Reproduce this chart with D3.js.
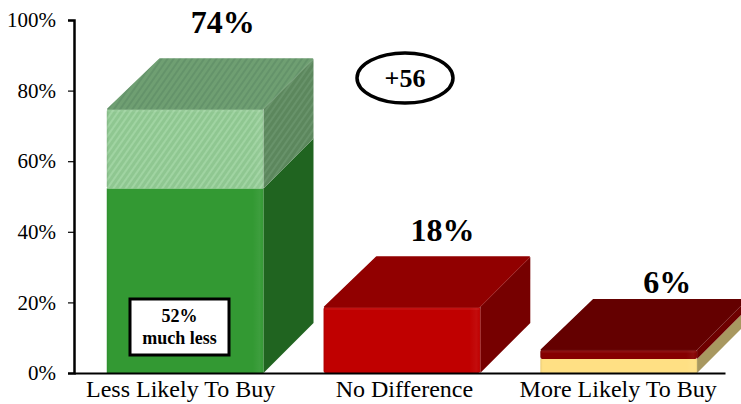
<!DOCTYPE html>
<html>
<head>
<meta charset="utf-8">
<script src="https://cdn.jsdelivr.net/npm/d3@7"></script>
<style>
  html, body { margin: 0; padding: 0; background: #fff; overflow: hidden; }
  svg { display: block; }
  text { font-family: "Liberation Serif", "Times New Roman", serif; fill: #000; }
</style>
</head>
<body>
<div id="chart"></div>
<script>
// values
const categories = ["Less Likely To Buy", "No Difference", "More Likely To Buy"];
const totalLabels = ["74%", "18%", "6%"];
const lowerValues = [52.3, 18.7, 4];
const upperValues = [22.5, 0, 2.6];
const yTicks = [0, 20, 40, 60, 80, 100];
const netLabel = "+56";
const noteLines = ["52%", "much less"];

// front, top and side colour of each stacked piece
const lowerColors = [
  { front: "#339933", top: "#206420", side: "#206420" },
  { front: "#c00000", top: "#910000", side: "#760000" },
  { front: "#ffe084", top: "#a89860", side: "#a89860" }
];
const upperColors = [
  { front: "url(#lightFront)", top: "url(#lightTop)", side: "url(#lightSide)" },
  null,
  { front: "#860000", top: "#640000", side: "#6e0000" }
];

const width = 741, height = 404;
const depth = 50;
const labelShift = [-4.5, 2.5, -0.5];
const totalShift = [37.5, 40.5, 48.5];
const totalLift = [26, 16, 7];

const svg = d3.select("#chart").append("svg")
  .attr("width", width)
  .attr("height", height);

const defs = svg.append("defs");

function stripes(id, base, stripe) {
  const p = defs.append("pattern")
    .attr("id", id)
    .attr("width", 5).attr("height", 5)
    .attr("patternUnits", "userSpaceOnUse")
    .attr("patternTransform", "rotate(-55)");
  p.append("rect").attr("width", 5).attr("height", 5).attr("fill", base);
  p.append("rect").attr("width", 5).attr("height", 2).attr("fill", stripe);
}
stripes("lightFront", "#8fc791", "#a0d4a2");
stripes("lightTop", "#6f9f72", "#64936a");
stripes("lightSide", "#5c875d", "#68936a");

// soft bevel down the left and right edge of a front face
const bevel = defs.append("linearGradient").attr("id", "bevel");
[
  [0, "#000", 0.08], [0.015, "#000", 0], [0.93, "#fff", 0],
  [0.975, "#fff", 0.05], [0.99, "#fff", 0.02], [1, "#000", 0.1]
].forEach(s => bevel.append("stop")
  .attr("offset", s[0]).attr("stop-color", s[1]).attr("stop-opacity", s[2]));

const x = d3.scaleBand()
  .domain(categories)
  .range([74, 725])
  .paddingInner(0.277)
  .paddingOuter(0.14)
  .align(0.54);

const y = d3.scaleLinear()
  .domain([0, 100])
  .range([373, 20]);

const bars = svg.append("g");

function drawPiece(g, left, w, from, to, c, isTop) {
  const yTop = y(to), yBot = y(from);
  const right = left + w;
  const path = d3.path();
  // side face
  path.moveTo(right, yBot);
  path.lineTo(right + depth, yBot - depth);
  path.lineTo(right + depth, yTop - depth);
  path.lineTo(right, yTop);
  path.closePath();
  g.append("path").attr("d", path.toString()).attr("fill", c.side);

  g.append("rect")
    .attr("x", left).attr("y", yTop)
    .attr("width", w).attr("height", yBot - yTop)
    .attr("rx", isTop ? 2 : 0)
    .attr("fill", c.front);
  g.append("rect")
    .attr("x", left).attr("y", yTop)
    .attr("width", w).attr("height", yBot - yTop)
    .attr("rx", isTop ? 2 : 0)
    .attr("fill", "url(#bevel)");

  if (isTop) {
    const topFace = d3.path();
    topFace.moveTo(left + 1, yTop);
    topFace.lineTo(left + depth + 3, yTop - depth);
    topFace.lineTo(right + depth - 1, yTop - depth);
    topFace.lineTo(right - 1, yTop);
    topFace.closePath();
    g.append("path")
      .attr("d", topFace.toString())
      .attr("fill", c.top)
      .attr("stroke", c.top)
      .attr("stroke-width", 1.5)
      .attr("stroke-linejoin", "round");
    // small highlight along the front's upper edge
    g.append("rect")
      .attr("x", left + 1).attr("y", yTop)
      .attr("width", w - 2).attr("height", 3)
      .attr("fill", "#fff")
      .attr("opacity", 0.06);
  }
}

categories.forEach((cat, i) => {
  const g = bars.append("g");
  const left = x(cat), w = x.bandwidth();
  const low = lowerValues[i], up = upperValues[i];
  drawPiece(g, left, w, 0, low, lowerColors[i], up === 0);
  if (up > 0) drawPiece(g, left, w, low, low + up, upperColors[i], true);
});

// axes
const yAxis = d3.axisLeft(y)
  .tickValues(yTicks)
  .tickFormat(d => d + "%")
  .tickSize(6)
  .tickPadding(12);

const yG = svg.append("g")
  .attr("transform", "translate(74,0)")
  .call(yAxis);
yG.select(".domain").attr("stroke", "#000").attr("stroke-width", 2.5);
yG.selectAll(".tick line").attr("stroke", "#000").attr("stroke-width", 1.2);
yG.selectAll(".tick text")
  .style("font-size", "21px")
  .style("font-family", '"Liberation Serif", serif')
  .attr("fill", "#000");

const xAxis = d3.axisBottom(x).tickSize(0).tickPadding(7);
const xG = svg.append("g")
  .attr("transform", "translate(0,373)")
  .call(xAxis);
xG.select(".domain").attr("stroke", "#000").attr("stroke-width", 2);
xG.selectAll(".tick text")
  .style("font-size", "24px")
  .style("font-family", '"Liberation Serif", serif')
  .attr("fill", "#000")
  .attr("dx", (d, i) => labelShift[i]);

// totals above the bars
categories.forEach((cat, i) => {
  const stackTop = lowerValues[i] + upperValues[i];
  svg.append("text")
    .attr("x", x(cat) + x.bandwidth() / 2 + totalShift[i])
    .attr("y", y(stackTop) - depth - totalLift[i])
    .attr("text-anchor", "middle")
    .style("font-size", "32px")
    .style("font-weight", "bold")
    .text(totalLabels[i]);
});

// net score ellipse
svg.append("ellipse")
  .attr("cx", 405).attr("cy", 78)
  .attr("rx", 48).attr("ry", 25)
  .attr("fill", "#fff")
  .attr("stroke", "#000")
  .attr("stroke-width", 3.5);
svg.append("text")
  .attr("x", 405).attr("y", 87)
  .attr("text-anchor", "middle")
  .style("font-size", "26px")
  .style("font-weight", "bold")
  .text(netLabel);

// note on the green bar
svg.append("rect")
  .attr("x", 130).attr("y", 299)
  .attr("width", 99).attr("height", 56)
  .attr("fill", "#fff")
  .attr("stroke", "#000")
  .attr("stroke-width", 3);
noteLines.forEach((line, i) => {
  svg.append("text")
    .attr("x", 179.5).attr("y", 322 + i * 22)
    .attr("text-anchor", "middle")
    .style("font-size", "18px")
    .style("font-weight", "bold")
    .text(line);
});
</script>
</body>
</html>
